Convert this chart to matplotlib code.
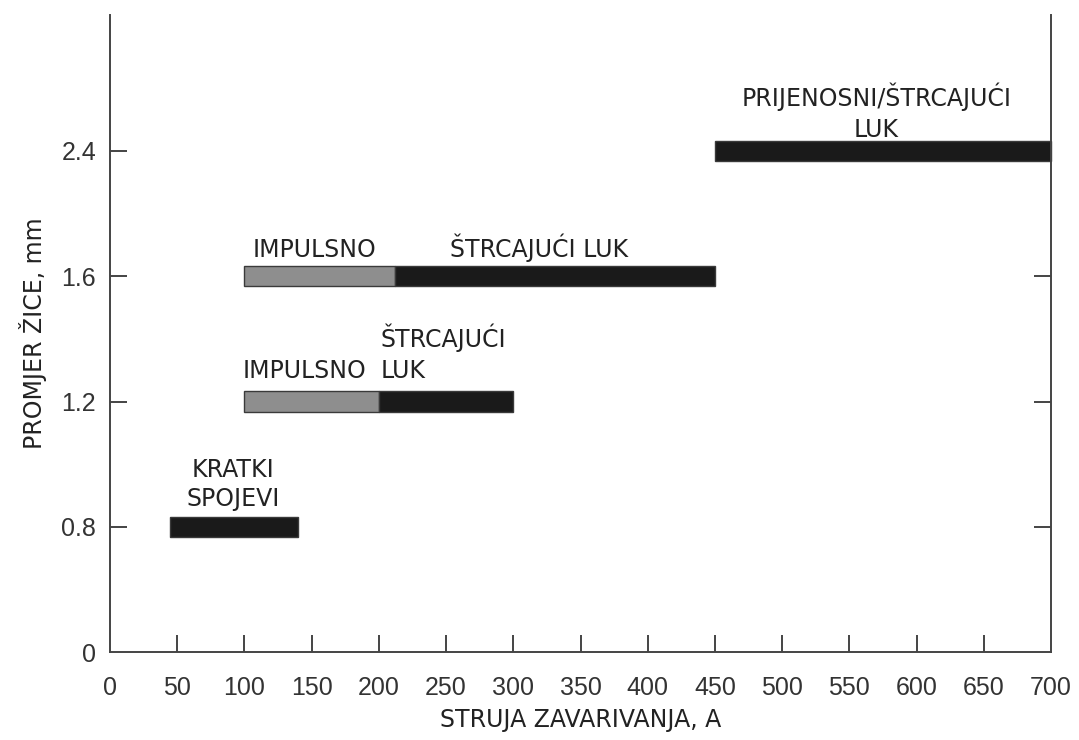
import matplotlib
matplotlib.use("Agg")
import matplotlib.pyplot as plt
import numpy as np

# Data (welding current A vs wire diameter mm)
diameter_labels = ['0', '0.8', '1.2', '1.6', '2.4']
row_pos = [0, 1, 2, 3, 4]

# Short-circuit transfer (KRATKI SPOJEVI)
short_rows = [1]
short_start = [45]
short_end = [140]

# Pulsed (IMPULSNO)
pulse_rows = [2, 3]
pulse_start = [100, 100]
pulse_end = [200, 212]

# Spray (ŠTRCAJUĆI LUK / PRIJENOSNI)
spray_rows = [2, 3, 4]
spray_start = [200, 212, 450]
spray_end = [300, 450, 700]

x_ticks = [0, 50, 100, 150, 200, 250, 300, 350, 400, 450, 500, 550, 600, 650, 700]

fig = plt.figure(figsize=(10.79, 7.40), dpi=100)
ax = fig.add_axes([110/1079, 1-652/740, (1051-110)/1079, (652-15)/740])

bar_h = 0.16
ax.barh(short_rows, np.array(short_end) - np.array(short_start), left=short_start,
        height=bar_h, color='#1a1a1a', edgecolor='#3a3a3a', linewidth=1)
ax.barh(pulse_rows, np.array(pulse_end) - np.array(pulse_start), left=pulse_start,
        height=bar_h, color='#8e8e8e', edgecolor='#3a3a3a', linewidth=1)
ax.barh(spray_rows, np.array(spray_end) - np.array(spray_start), left=spray_start,
        height=bar_h, color='#1a1a1a', edgecolor='#3a3a3a', linewidth=1, clip_on=False)

ax.set_xlim(0, 700)
ax.set_ylim(0, (652-15)/125.25)

ax.spines['top'].set_visible(False)
for s in ['left', 'right', 'bottom']:
    ax.spines[s].set_color('#444444')
    ax.spines[s].set_linewidth(1.4)

ax.set_xticks(x_ticks)
ax.set_xticklabels([str(v) for v in x_ticks])
ax.set_yticks(row_pos)
ax.set_yticklabels(diameter_labels)
ax.tick_params(axis='x', direction='in', length=12, width=1.4, color='#444444',
               pad=17, labelsize=18, labelcolor='#333333')
ax.tick_params(axis='y', direction='in', length=12, width=1.4, color='#444444',
               pad=10, labelsize=18, labelcolor='#333333', right=True)
for lab in ax.get_xticklabels() + ax.get_yticklabels():
    lab.set_fontfamily('Liberation Sans')
# hide tick marks at 0 and 700 on x, at 0 on y, and the right tick hidden under the 2.4 bar
for t in ax.xaxis.get_major_ticks():
    if t.get_loc() in (0, 700):
        t.tick1line.set_visible(False)
yt = ax.yaxis.get_major_ticks()
yt[0].tick1line.set_visible(False)
yt[0].tick2line.set_visible(False)
yt[4].tick2line.set_visible(False)

ax.set_xlabel('STRUJA ZAVARIVANJA, A', fontsize=17, color='#222222', labelpad=6,
              fontfamily='DejaVu Sans')
ax.set_ylabel('PROMJER ŽICE, mm', fontsize=17, color='#222222', labelpad=10,
              fontfamily='DejaVu Sans')

tk = dict(fontsize=17, color='#222222', fontfamily='DejaVu Sans', va='baseline')
ax.text(91.5, 1.40, 'KRATKI', ha='center', **tk)
ax.text(91.5, 1.165, 'SPOJEVI', ha='center', **tk)
ax.text(99, 2.19, 'IMPULSNO', ha='left', **tk)
ax.text(201, 2.19, 'LUK', ha='left', **tk)
ax.text(201, 2.435, 'ŠTRCAJUĆI', ha='left', **tk)
ax.text(106, 3.15, 'IMPULSNO', ha='left', **tk)
ax.text(253, 3.15, 'ŠTRCAJUĆI LUK', ha='left', **tk)
ax.text(570, 4.36, 'PRIJENOSNI/ŠTRCAJUĆI', ha='center', **tk)
ax.text(570, 4.11, 'LUK', ha='center', **tk)

fig.savefig('out.png', dpi=100)
